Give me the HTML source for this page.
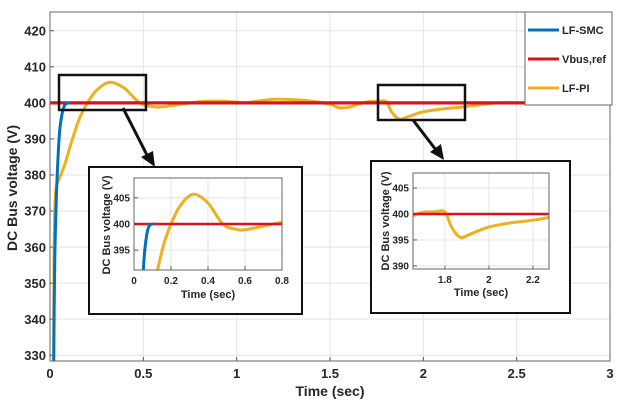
<!DOCTYPE html>
<html><head><meta charset="utf-8"><style>
html,body{margin:0;padding:0;background:#fff;width:623px;height:408px;overflow:hidden;}
svg{display:block;font-family:"Liberation Sans",Arial,sans-serif;font-weight:bold;}
</style></head><body>
<svg id="chart" width="623" height="408" viewBox="0 0 623 408" xmlns="http://www.w3.org/2000/svg"></svg>
<script>
// ---- data ----
const piT = [0.02,0.022,0.03,0.05,0.08,0.12,0.16,0.2,0.25,0.32,0.4,0.48,0.55,0.6,0.7,0.8,0.9,1.0,1.05,1.1,1.2,1.3,1.4,1.5,1.55,1.6,1.65,1.7,1.75,1.8,1.83,1.87,1.92,2.0,2.1,2.2,2.3,2.4,2.6,3.0];
const piV = [328,360,375,379,383,390,396,400,403.5,405.7,404,400,399,398.9,399.6,400.3,400.5,400.2,400,400.4,401,400.9,400.5,399.6,398.6,398.8,399.6,400.3,400.4,400.4,397.5,395.5,396.2,397.5,398.3,398.8,399.5,400,400,400];
const smcT = [0.02,0.025,0.035,0.05,0.065,0.08,0.1,0.15,3.0];
const smcV = [328,355,375,391,397,399.5,400,400,400];
const refT = [0,3];
const refV = [400,400];
const mainXTicks = [0,0.5,1,1.5,2,2.5,3];
const mainYTicks = [330,340,350,360,370,380,390,400,410,420];
const in1XTicks = [0,0.2,0.4,0.6,0.8];
const in1YTicks = [395,400,405];
const in2XTicks = [1.8,2,2.2];
const in2YTicks = [390,395,400,405];
const legendLabels = ["LF-SMC","Vbus,ref","LF-PI"];

const NS="http://www.w3.org/2000/svg";
const svg=document.getElementById('chart');
const C={blue:"#0072BD",red:"#D7141A",yel:"#EDB120"};
function el(tag,attrs,parent){const e=document.createElementNS(NS,tag);for(const k in attrs)e.setAttribute(k,attrs[k]);(parent||svg).appendChild(e);return e;}

function makeAxes(name,L,T,R,B,x0,x1,y0,y1,xt,yt,fs){
  const g=el('g',{});
  
  
  const sx=v=>L+(v-x0)/(x1-x0)*(R-L);
  const sy=v=>B-(v-y0)/(y1-y0)*(B-T);
  const bg=el('rect',{x:L,y:T,width:R-L,height:B-T,fill:'#fff'},g);
  
  
  xt.forEach(v=>{const x=sx(v);
    const gl=el('line',{x1:x,x2:x,y1:T,y2:B,stroke:'#e3e3e3','stroke-width':1},g);
    
    el('line',{x1:x,x2:x,y1:B,y2:B-4,stroke:'#555'},g);
    const t=el('text',{x:x,y:B+fs+4,'font-size':fs,'text-anchor':'middle',fill:'#262626'},g);
    t.textContent=String(v);
    });
  yt.forEach(v=>{const y=sy(v);
    const gl=el('line',{x1:L,x2:R,y1:y,y2:y,stroke:'#e3e3e3','stroke-width':1},g);
    
    el('line',{x1:L,x2:L+4,y1:y,y2:y,stroke:'#555'},g);
    const t=el('text',{x:L-4,y:y+fs*0.36,'font-size':fs,'text-anchor':'end',fill:'#262626'},g);
    t.textContent=String(v);
    });
  return {g,sx,sy,L,T,R,B,x0,x1,y0,y1};
}
function smoothPath(pts){
  let d='M'+pts[0][0].toFixed(1)+','+pts[0][1].toFixed(1);
  for(let i=0;i<pts.length-1;i++){
    const p0=pts[Math.max(0,i-1)],p1=pts[i],p2=pts[i+1],p3=pts[Math.min(pts.length-1,i+2)];
    const c1=[p1[0]+(p2[0]-p0[0])/6,p1[1]+(p2[1]-p0[1])/6];
    const c2=[p2[0]-(p3[0]-p1[0])/6,p2[1]-(p3[1]-p1[1])/6];
    d+=' C'+c1[0].toFixed(1)+','+c1[1].toFixed(1)+' '+c2[0].toFixed(1)+','+c2[1].toFixed(1)+' '+p2[0].toFixed(1)+','+p2[1].toFixed(1);
  }
  return d;
}
function series(ax,ts,vs,color,w,name){
  const clipId=name+'-clip';
  const cp=el('clipPath',{id:clipId},ax.g);
  el('rect',{x:ax.L,y:ax.T,width:ax.R-ax.L,height:ax.B-ax.T},cp);
  const pts=ts.map((t,i)=>[ax.sx(t),ax.sy(vs[i])]);
  const p=el('path',{d:smoothPath(pts),fill:'none',stroke:color,'stroke-width':w,'stroke-linejoin':'round','stroke-linecap':'round','clip-path':'url(#'+clipId+')'},ax.g);
  
  
}
function frame(ax){el('rect',{x:ax.L,y:ax.T,width:ax.R-ax.L,height:ax.B-ax.T,fill:'none',stroke:'#666','stroke-width':1},ax.g);}

// main axes
const M=makeAxes('main-axes',50,12,610,361,0,3,328.4,425.2,mainXTicks,mainYTicks,13);
series(M,piT,piV,C.yel,3,'lf-pi-line');
series(M,refT,refV,C.red,3.2,'vbus-ref-line');
series(M,smcT.slice(0,7),smcV.slice(0,7),C.blue,3,'lf-smc-line');
frame(M);
let t=el('text',{x:330,y:396,'font-size':14,'text-anchor':'middle',fill:'#262626'});t.textContent='Time (sec)';

t=el('text',{x:0,y:0,'font-size':14,'text-anchor':'middle',fill:'#262626',transform:'translate(17,188) rotate(-90)'});t.textContent='DC Bus voltage (V)';


// zoom boxes and arrows
let r=el('rect',{x:59,y:75,width:87,height:35,fill:'none',stroke:'#111','stroke-width':2.5});

r=el('rect',{x:378,y:85,width:87,height:35,fill:'none',stroke:'#111','stroke-width':2.5});

let a=el('line',{x1:123,y1:108,x2:148,y2:157,stroke:'#111','stroke-width':3});

el('polygon',{points:'155,167 141,157 153,151',fill:'#111'});
a=el('line',{x1:413,y1:120,x2:436,y2:150,stroke:'#111','stroke-width':3});

el('polygon',{points:'444,160 430,152 441,144',fill:'#111'});

// inset 1
r=el('rect',{x:89,y:167,width:213,height:147,fill:'#fff',stroke:'#111','stroke-width':2});

const I1=makeAxes('inset-1-axes',134,178,282,270,0,0.8,391.2,408.8,in1XTicks,in1YTicks,10);
series(I1,piT,piV,C.yel,3,'inset-1-lf-pi-line');
series(I1,refT,refV,C.red,2.5,'inset-1-vbus-ref-line');
series(I1,smcT.slice(0,7),smcV.slice(0,7),C.blue,3,'inset-1-lf-smc-line');
frame(I1);
t=el('text',{x:208,y:298,'font-size':11,'text-anchor':'middle',fill:'#262626'});t.textContent='Time (sec)';

t=el('text',{x:0,y:0,'font-size':11,'text-anchor':'middle',fill:'#262626',transform:'translate(110,225) rotate(-90)'});t.textContent='DC Bus voltage (V)';


// inset 2
r=el('rect',{x:371,y:161,width:199,height:152,fill:'#fff',stroke:'#111','stroke-width':2});

const I2=makeAxes('inset-2-axes',413,173,549,269,1.655,2.273,389.4,407.9,in2XTicks,in2YTicks,10);
series(I2,piT,piV,C.yel,3,'inset-2-lf-pi-line');
series(I2,refT,refV,C.red,2.5,'inset-2-vbus-ref-line');
frame(I2);
t=el('text',{x:481,y:296,'font-size':11,'text-anchor':'middle',fill:'#262626'});t.textContent='Time (sec)';

t=el('text',{x:0,y:0,'font-size':11,'text-anchor':'middle',fill:'#262626',transform:'translate(389,221) rotate(-90)'});t.textContent='DC Bus voltage (V)';


// legend
const lg=el('g',{});

el('rect',{x:525,y:12,width:87,height:93,fill:'#fff',stroke:'#666','stroke-width':1},lg);
const lc=[C.blue,C.red,C.yel];
legendLabels.forEach((lab,i)=>{const y=30+i*29;
  const e=el('g',{},lg);
  
  el('line',{x1:528,x2:559,y1:y,y2:y,stroke:lc[i],'stroke-width':3},e);
  const tx=el('text',{x:562,y:y+4,'font-size':11,fill:'#262626'},e);tx.textContent=lab;});
</script>
</body></html>
